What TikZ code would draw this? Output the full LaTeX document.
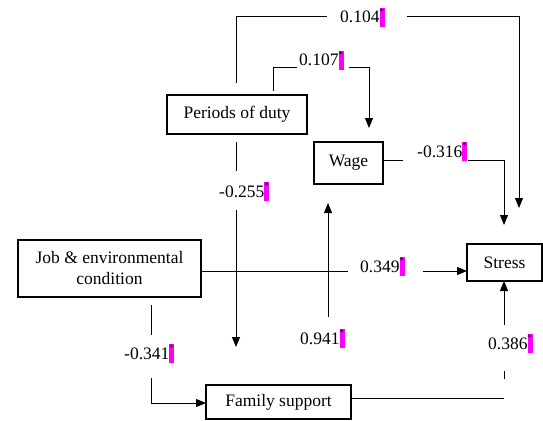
\documentclass[tikz,border=0pt]{standalone}
\usepackage{fontspec}
\setmainfont{Liberation Serif}
\usetikzlibrary{arrows.meta}
\definecolor{sigmag}{RGB}{250,0,250}
\newcommand{\sigmk}{\makebox[5pt][l]{\textcolor{sigmag}{\rule[-4pt]{5pt}{19pt}}\llap{\raisebox{8.5pt}{\fontsize{9}{9}\selectfont\textcolor{black}{*}}\kern0.6pt}}}
\begin{document}
\begin{tikzpicture}[x=1pt,y=-1pt, font=\fontsize{17.5}{21}\selectfont,
 box/.style={draw, line width=1.1pt, inner sep=0pt, align=center},
 conn/.style={line width=0.9pt},
 arr/.style={conn, -{Triangle[length=10pt,width=8pt]}},
 coef/.style={inner sep=0pt, anchor=base west}]
\useasboundingbox (0,0) rectangle (543,420);
% boxes
\node[box, minimum width=140pt, minimum height=39pt] (per) at (237,114.5) {Periods of duty};
\node[box, minimum width=69pt, minimum height=42pt] (wage) at (348.5,163) {Wage};
\node[box, minimum width=183pt, minimum height=57pt] (job) at (109.5,268.5) {Job \& environmental\\condition};
\node[box, minimum width=75pt, minimum height=37pt] (stress) at (504.5,262.5) {Stress};
\node[box, minimum width=145pt, minimum height=34pt] (fam) at (278.5,402) {Family support};
% coefficients
\node[coef] (c104) at (340,23) {0.104\sigmk};
\node[coef] (c107) at (299,66) {0.107\sigmk};
\node[coef] (c255) at (219,197) {-0.255\sigmk};
\node[coef] (c316) at (417,157) {-0.316\sigmk};
\node[coef] (c349) at (360,272) {0.349\sigmk};
\node[coef] (c941) at (300,344) {0.941\sigmk};
\node[coef] (c341) at (124,359) {-0.341\sigmk};
\node[coef] (c386) at (488,349) {0.386\sigmk};
% connector points
\coordinate (a1) at (236,83); \coordinate (a2) at (236,16); \coordinate (a3) at (327,16);
\coordinate (a4) at (407,16); \coordinate (a5) at (519,16); \coordinate (a6) at (519,208);
\coordinate (b1) at (273,91); \coordinate (b2) at (273,67); \coordinate (b3) at (297,67);
\coordinate (b4) at (349,67); \coordinate (b5) at (369,67); \coordinate (b6) at (369,128);
\coordinate (d1) at (236,142); \coordinate (d2) at (236,171);
\coordinate (d3) at (236,210); \coordinate (d4) at (236,347);
\coordinate (e1) at (383,160); \coordinate (e2) at (403,160);
\coordinate (e3) at (468,160); \coordinate (e4) at (504,160); \coordinate (e5) at (504,225);
\coordinate (f1) at (201,271); \coordinate (f2) at (348,271);
\coordinate (f3) at (423,271); \coordinate (f4) at (467,271);
\coordinate (g1) at (328,317); \coordinate (g2) at (328,203);
\coordinate (h1) at (151,305); \coordinate (h2) at (151,335);
\coordinate (h3) at (151,378); \coordinate (h4) at (151,403); \coordinate (h5) at (206,403);
\coordinate (k1) at (351,398); \coordinate (k2) at (504,398);
\coordinate (k3) at (504,379); \coordinate (k4) at (504,371);
\coordinate (k5) at (504,325); \coordinate (k6) at (504,281);
% connectors
\draw[conn] (a1) -- (a2) -- (a3);
\draw[arr] (a4) -- (a5) -- (a6);
\draw[conn] (b1) -- (b2) -- (b3);
\draw[arr] (b4) -- (b5) -- (b6);
\draw[conn] (d1) -- (d2);
\draw[arr] (d3) -- (d4);
\draw[conn] (e1) -- (e2);
\draw[arr] (e3) -- (e4) -- (e5);
\draw[conn] (f1) -- (f2);
\draw[arr] (f3) -- (f4);
\draw[arr] (g1) -- (g2);
\draw[conn] (h1) -- (h2);
\draw[arr] (h3) -- (h4) -- (h5);
\draw[conn] (k1) -- (k2);
\draw[conn] (k3) -- (k4);
\draw[arr] (k5) -- (k6);
\end{tikzpicture}
\end{document}
